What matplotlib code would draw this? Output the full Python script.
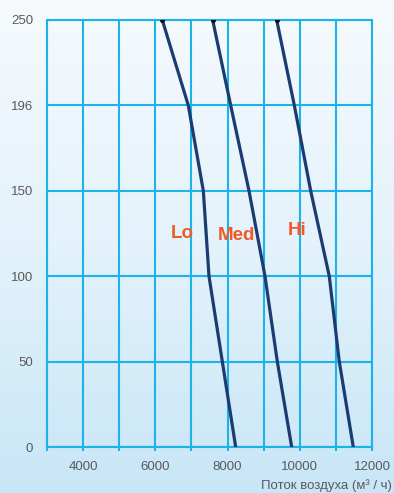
import numpy as np
import matplotlib
matplotlib.use("Agg")
import matplotlib.pyplot as plt
from matplotlib.colors import LinearSegmentedColormap

# data (airflow m3/h vs pressure)
pressure = [0, 50, 100, 150, 200, 250]
lo_flow = [8225, 7855, 7486, 7329, 6913, 6193]
med_flow = [9776, 9378, 9037, 8594, 8087, 7588]
hi_flow = [11482, 11094, 10817, 10302, 9849, 9361]

y_ticks = [0, 50, 100, 150, 200, 250]
y_labels = ["0", "50", "100", "150", "196", "250"]
x_ticks = [4000, 6000, 8000, 10000, 12000]

curve_labels = ["Lo", "Med", "Hi"]
label_pos = [(6739, 125), (8234, 124), (9923, 127)]

plt.rcParams["font.family"] = ["Liberation Sans", "DejaVu Sans"]

grid_col = "#1cb3ea"
line_col = "#1a3c70"
text_col = "#5a5a5a"

fig = plt.figure(figsize=(3.94, 4.93), dpi=100)

# background gradient
bg = fig.add_axes([0, 0, 1, 1])
cmap = LinearSegmentedColormap.from_list("bg", ["#c8e6f7", "#e3f2fb", "#f6fafd"])
grad = np.linspace(0, 1, 256).reshape(-1, 1)
bg.imshow(grad, aspect="auto", cmap=cmap, origin="lower", extent=[0, 1, 0, 1])
bg.axis("off")

ax = fig.add_axes([47 / 394, 46 / 493, 325 / 394, 427 / 493])
ax.patch.set_alpha(0)

for flow in (lo_flow, med_flow, hi_flow):
    ax.plot(flow, pressure, color=line_col, lw=2.3, solid_capstyle="round", zorder=3)
    ax.plot(flow[-1], pressure[-1], "o", color="black", ms=2.5, zorder=4)

for name, (x, y) in zip(curve_labels, label_pos):
    ax.text(x, y, name, color="#f05a28", fontsize=13.5, fontweight="bold",
            ha="center", va="center", zorder=5)

ax.set_xlim(3000, 12000)
ax.set_ylim(0, 250)
ax.set_xticks(x_ticks)
ax.set_xticks(np.arange(3000, 12001, 1000), minor=True)
ax.set_yticks(y_ticks)
ax.set_yticklabels(y_labels)
ax.grid(True, which="both", color=grid_col, lw=1.5)
ax.set_axisbelow(True)
for s in ax.spines.values():
    s.set_color(grid_col)
    s.set_linewidth(1.5)

ax.tick_params(axis="x", which="both", length=3, width=1.5, color=grid_col,
               labelsize=9.5, labelcolor=text_col, pad=7)
ax.tick_params(axis="y", length=0, labelsize=9.5, labelcolor=text_col, pad=10)

fig.text(392 / 394, 1 - 486 / 493, "Поток воздуха (м³ / ч)", ha="right", va="center",
         fontsize=9.5, color=text_col)

fig.savefig("out.png", dpi=100)
